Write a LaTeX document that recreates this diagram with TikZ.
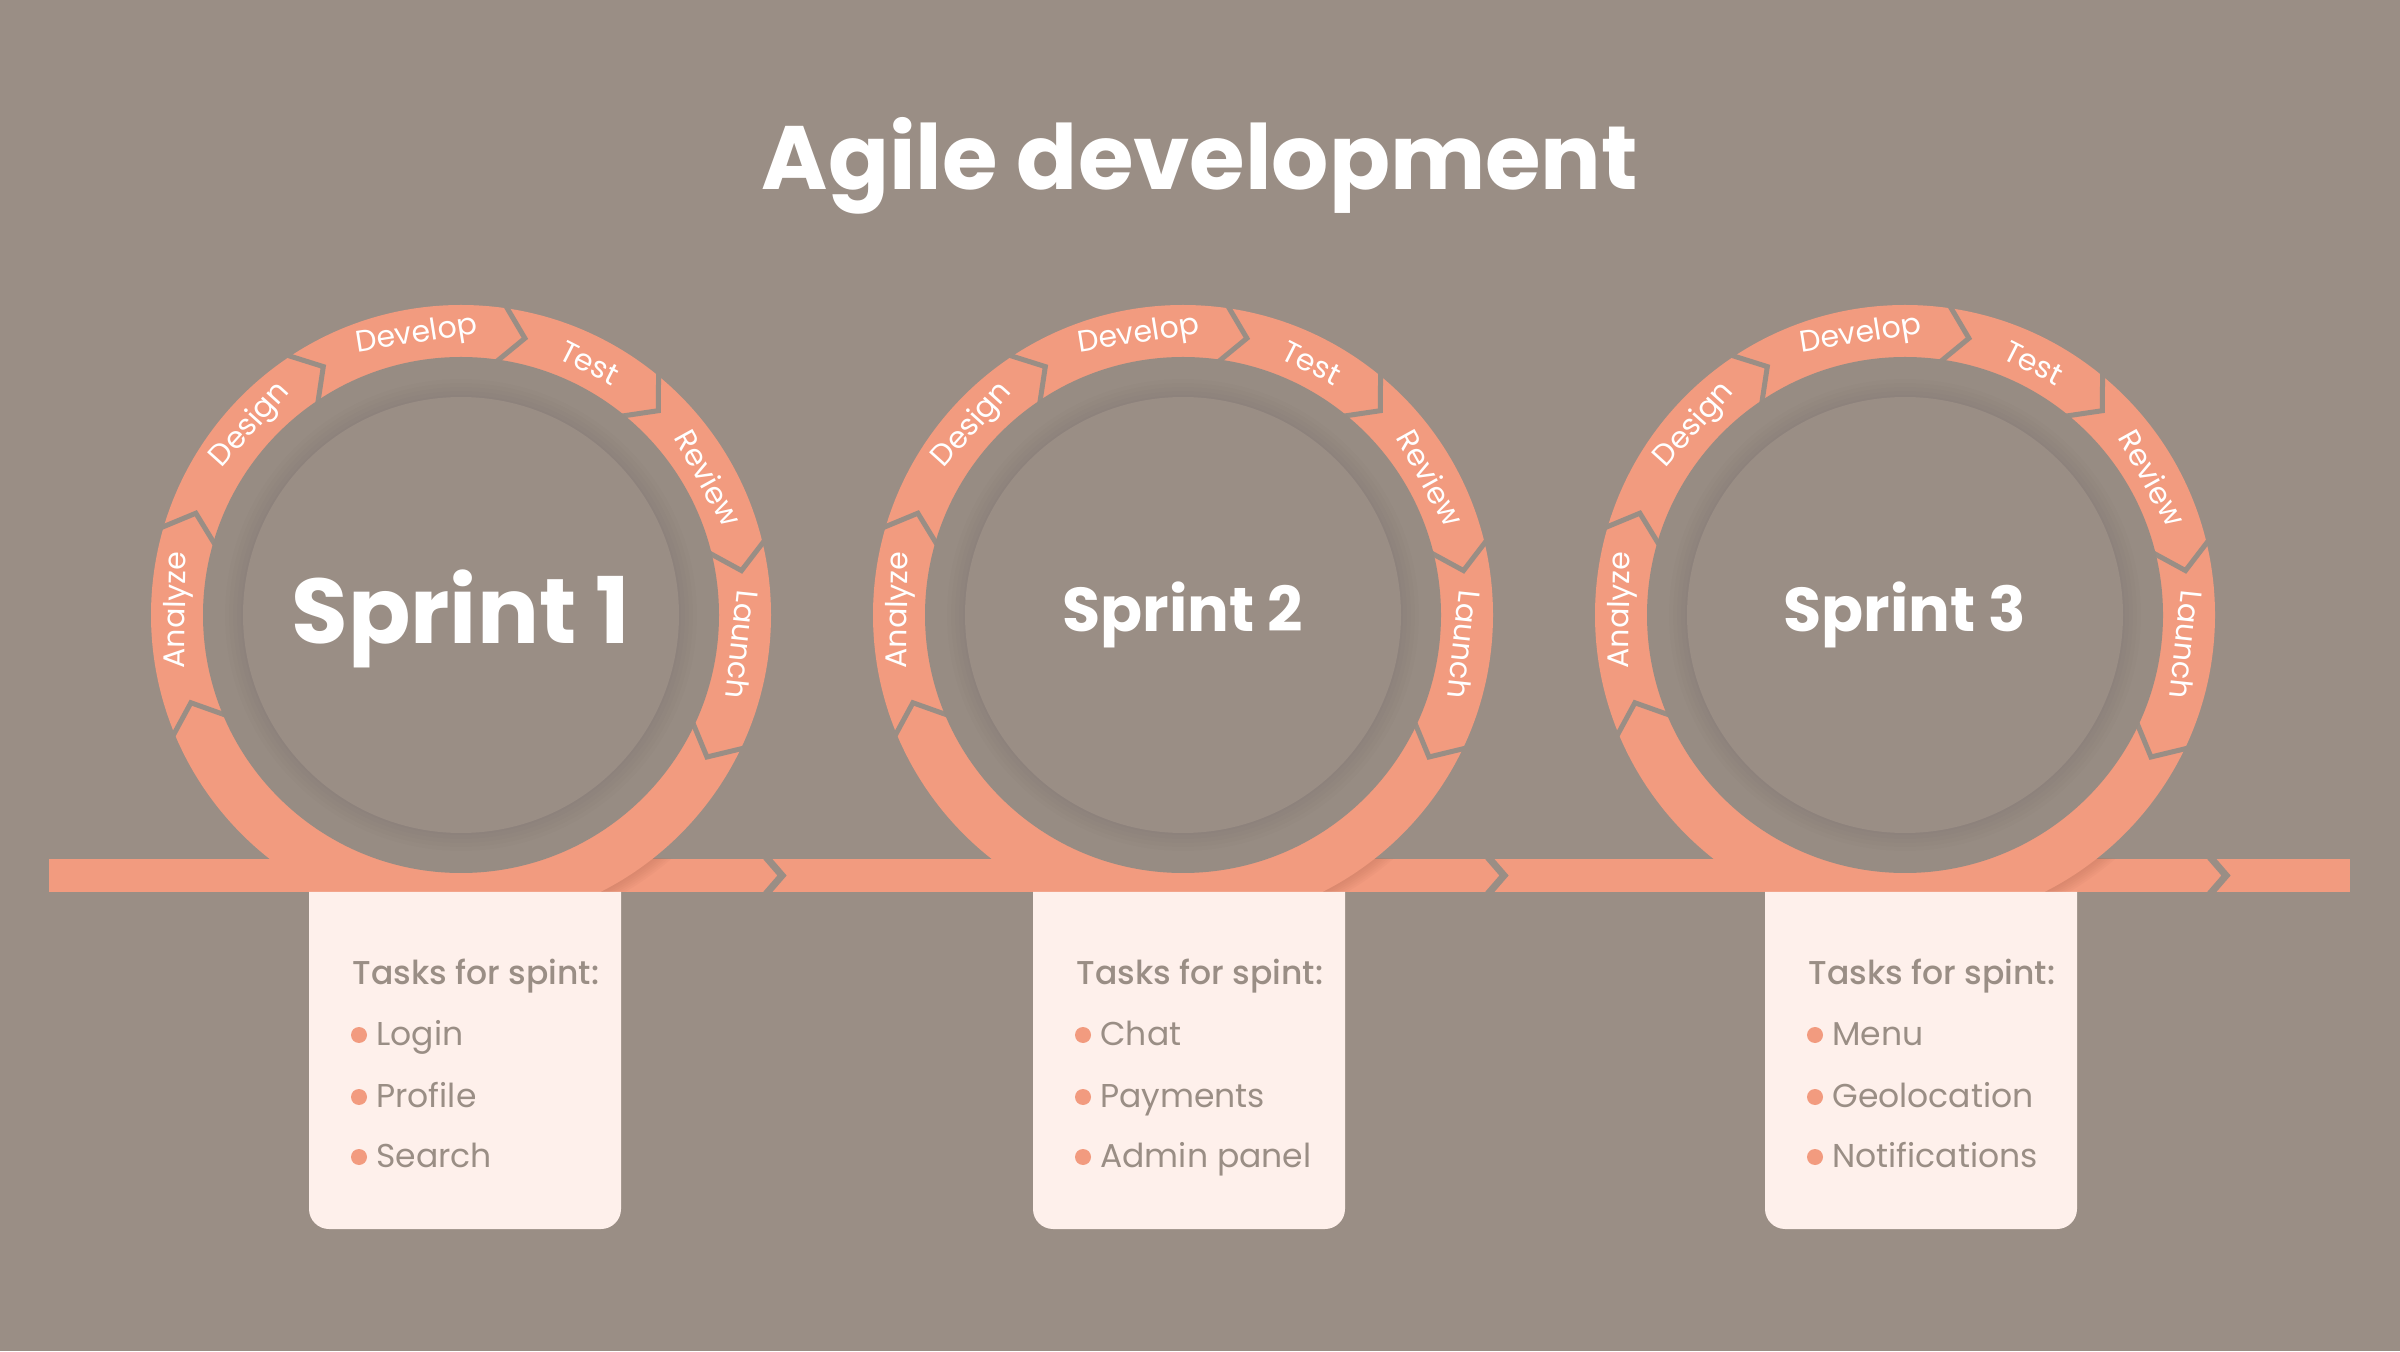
\documentclass[tikz,border=0pt]{standalone}
\usepackage{fontspec}
\setmainfont{Poppins}
\newfontfamily\medfont{Poppins Medium}
\usepackage{tikz}
\usetikzlibrary{calc}
\definecolor{bgcolor}{RGB}{154,142,133}
\definecolor{ringcolor}{RGB}{242,155,127}
\definecolor{bandcolor}{RGB}{151,140,131}
\definecolor{boxcolor}{RGB}{254,240,235}
\definecolor{taskcolor}{RGB}{154,142,133}
\definecolor{shadecolor}{RGB}{190,115,92}

\tikzset{
  phase/.style={text=white, font=\fontsize{15}{15}\selectfont, inner sep=0pt},
  sprintlabel/.style={text=white, anchor=base, inner sep=0pt},
  tasklabel/.style={text=taskcolor, anchor=base west, inner sep=0pt, font=\fontsize{16.5}{16.5}\selectfont},
  gapline/.style={draw=bgcolor, line width=2.5pt},
  bargap/.style={draw=bgcolor, line width=3.5pt},
}

\begin{document}
\begin{tikzpicture}[x=0.5pt, y=0.5pt]
        % Background
        \fill[bgcolor] (0,0) rectangle (2400,1351);
        \useasboundingbox (0,0) rectangle (2400,1351);

        % Title
        \node[text=white, font=\fontsize{45}{45}\selectfont\bfseries, anchor=base, inner sep=0pt] (title) at (1200,1161) {Agile development};

        % Timeline bar
        \fill[ringcolor] (49,459) rectangle (2350,492);

        \foreach \s/\cx/\bx/\sname/\fs/\base/\ta/\tb/\tc in {1/461/309/Sprint 1/46/707/Login/Profile/Search, 2/1183/1033/Sprint 2/31/719/Chat/Payments/Admin panel, 3/1905/1765/Sprint 3/31/719/Menu/Geolocation/Notifications}{
            \coordinate (c\s) at (\cx,736);

            % Shadow of the loop on the bar
            \begin{scope}
                \clip (\cx,459) rectangle (\cx+340,492);
                \foreach \w in {2,4,...,12}
                    \draw[shadecolor, opacity=0.08, line width=\w pt] (c\s) circle (310);
            \end{scope}
            \draw[bargap] (\cx+305,494) -- (\cx+321,475.5) -- (\cx+305,457);

            % Loop with phase arrows
            \fill[ringcolor] (c\s) circle (310);
            \foreach \b in {203,164,124,82,51,14,-25}
                \draw[gapline] ([shift={(\b:314)}]c\s) -- ([shift={(\b-5:284)}]c\s) -- ([shift={(\b:256)}]c\s);

            % Inner disk
            \fill[bandcolor] (c\s) circle (258);
            \foreach \r in {236,232,...,220}
                \fill[black, opacity=0.008] (c\s) circle (\r);
            \fill[bgcolor] (c\s) circle (218);

            % Phase labels
            \foreach \a/\t [count=\i] in {179/Analyze, 138/Design, 99/Develop, 63/Test, 29/Review, -6/Launch}
                \node[phase, rotate=\a-90] (ph\s-\i) at ([shift={(\a:283)}]c\s) {\t};

            \node[sprintlabel, font=\fontsize{\fs}{\fs}\selectfont\bfseries] (sp\s) at (\cx,\base) {\sname};

            % Task card
            \fill[boxcolor] (\bx,459) {[rounded corners=10pt] -- (\bx,122) -- (\bx+312,122)} -- (\bx+312,459) -- cycle;
            \node[tasklabel, font=\fontsize{16.5}{16.5}\selectfont\medfont] (head\s) at (\bx+43,366) {Tasks for spint:};
            \foreach \t/\y [count=\j] in {\ta/306, \tb/244, \tc/184}{
                \fill[ringcolor] (\bx+50,\y+10) circle (8);
                \node[tasklabel] (task\s-\j) at (\bx+67,\y) {\t};
            }
        }
\end{tikzpicture}
\end{document}
